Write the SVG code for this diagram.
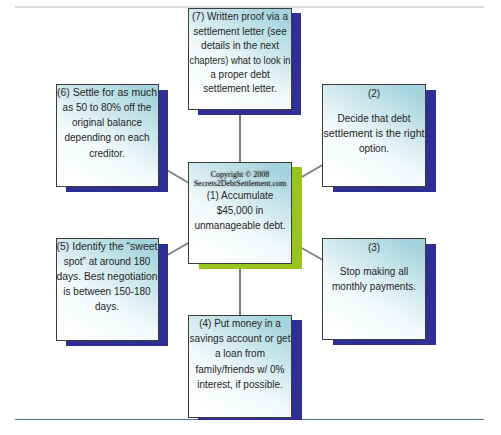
<svg xmlns="http://www.w3.org/2000/svg" width="501" height="435" viewBox="0 0 501 435">
<style>
.box{fill:url(#g);stroke:#3c3c3c;stroke-width:1}
.sh{fill:#2e2e94}
.shg{fill:#99c41e}
.t{font-family:"Liberation Sans",Arial,sans-serif;font-size:10px;fill:#262626;text-anchor:middle}
.c{font-family:"Liberation Serif","Times New Roman",serif;font-size:8px;fill:#222;text-anchor:middle}
.cn{stroke:#808080;stroke-width:2;fill:none}
</style>
<defs>
<linearGradient id="g" x1="0.2" y1="1" x2="0.8" y2="0">
<stop offset="0" stop-color="#ffffff"/>
<stop offset="0.4" stop-color="#f2f9fa"/>
<stop offset="1" stop-color="#a3d3dc"/>
</linearGradient>
<filter id="blur" x="-10%" y="-30%" width="120%" height="160%"><feGaussianBlur stdDeviation="0.9"/></filter>
</defs>
<rect width="501" height="435" fill="#ffffff"/>
<line x1="15" y1="7" x2="484" y2="7" stroke="#cfd2d6" stroke-width="1.5"/>
<line x1="15" y1="419.5" x2="484" y2="419.5" stroke="#4a6fa5" stroke-width="1"/>
<g id="connectors">
<line class="cn" x1="240" y1="213" x2="240" y2="60"/>
<line class="cn" x1="240" y1="213" x2="240" y2="366"/>
<line class="cn" x1="240" y1="213" x2="107" y2="135"/>
<line class="cn" x1="240" y1="213" x2="374" y2="135"/>
<line class="cn" x1="240" y1="213" x2="107" y2="290"/>
<line class="cn" x1="240" y1="213" x2="374" y2="289"/>
</g>
<g id="node7">
<rect class="sh" x="198" y="13" width="103" height="102"/>
<rect class="box" x="188.5" y="8.5" width="103" height="101"/>
<text class="t" x="240" y="20">(7) Written proof via a</text>
<text class="t" x="240" y="35">settlement letter (see</text>
<text class="t" x="240" y="49">details in the next</text>
<text class="t" x="240" y="64" textLength="101" lengthAdjust="spacingAndGlyphs">chapters) what to look in</text>
<text class="t" x="240" y="78">a proper debt</text>
<text class="t" x="240" y="92">settlement letter.</text>
</g>
<g id="node6">
<rect class="sh" x="66" y="90" width="102" height="102"/>
<rect class="box" x="56.5" y="84.5" width="102" height="102"/>
<text class="t" x="107" y="96" textLength="100" lengthAdjust="spacingAndGlyphs">(6) Settle for as much</text>
<text class="t" x="107" y="111">as 50 to 80% off the</text>
<text class="t" x="107" y="126">original balance</text>
<text class="t" x="107" y="141">depending on each</text>
<text class="t" x="107" y="157">creditor.</text>
</g>
<g id="node2">
<rect class="sh" x="333" y="90" width="103" height="102"/>
<rect class="box" x="322.5" y="84.5" width="103" height="102"/>
<text class="t" x="374" y="97">(2)</text>
<text class="t" x="374" y="122">Decide that debt</text>
<text class="t" x="374" y="137" textLength="101" lengthAdjust="spacingAndGlyphs">settlement is the right</text>
<text class="t" x="374" y="152">option.</text>
</g>
<g id="node1">
<rect class="shg" x="199" y="167" width="103" height="102"/>
<rect class="box" x="188.5" y="162.5" width="103" height="101"/>
<g filter="url(#blur)" opacity="0.6">
<text class="c" x="240" y="177">Copyright © 2008</text>
<text class="c" x="240" y="186">Secrets2DebtSettlement.com</text>
</g>
<text class="c" x="240" y="177">Copyright © 2008</text>
<text class="c" x="240" y="186">Secrets2DebtSettlement.com</text>
<text class="t" x="240" y="199">(1) Accumulate</text>
<text class="t" x="240" y="214">$45,000  in</text>
<text class="t" x="240" y="229">unmanageable debt.</text>
</g>
<g id="node5">
<rect class="sh" x="66" y="244" width="102" height="102"/>
<rect class="box" x="56.5" y="238.5" width="102" height="102"/>
<text class="t" x="107" y="250" textLength="101" lengthAdjust="spacingAndGlyphs">(5) Identify the “sweet</text>
<text class="t" x="107" y="265">spot” at around 180</text>
<text class="t" x="107" y="280" textLength="101" lengthAdjust="spacingAndGlyphs">days. Best negotiation</text>
<text class="t" x="107" y="295">is between 150-180</text>
<text class="t" x="107" y="310">days.</text>
</g>
<g id="node3">
<rect class="sh" x="333" y="244" width="103" height="101"/>
<rect class="box" x="322.5" y="238.5" width="103" height="101"/>
<text class="t" x="374" y="251">(3)</text>
<text class="t" x="374" y="275">Stop making all</text>
<text class="t" x="374" y="290">monthly payments.</text>
</g>
<g id="node4">
<rect class="sh" x="198" y="320" width="104" height="100"/>
<rect class="box" x="188.5" y="315.5" width="103" height="102"/>
<text class="t" x="240" y="327">(4) Put money in a</text>
<text class="t" x="240" y="342" textLength="101" lengthAdjust="spacingAndGlyphs">savings account or get</text>
<text class="t" x="240" y="357">a loan from</text>
<text class="t" x="240" y="373">family/friends w/ 0%</text>
<text class="t" x="240" y="388">interest, if possible.</text>
</g>
</svg>
